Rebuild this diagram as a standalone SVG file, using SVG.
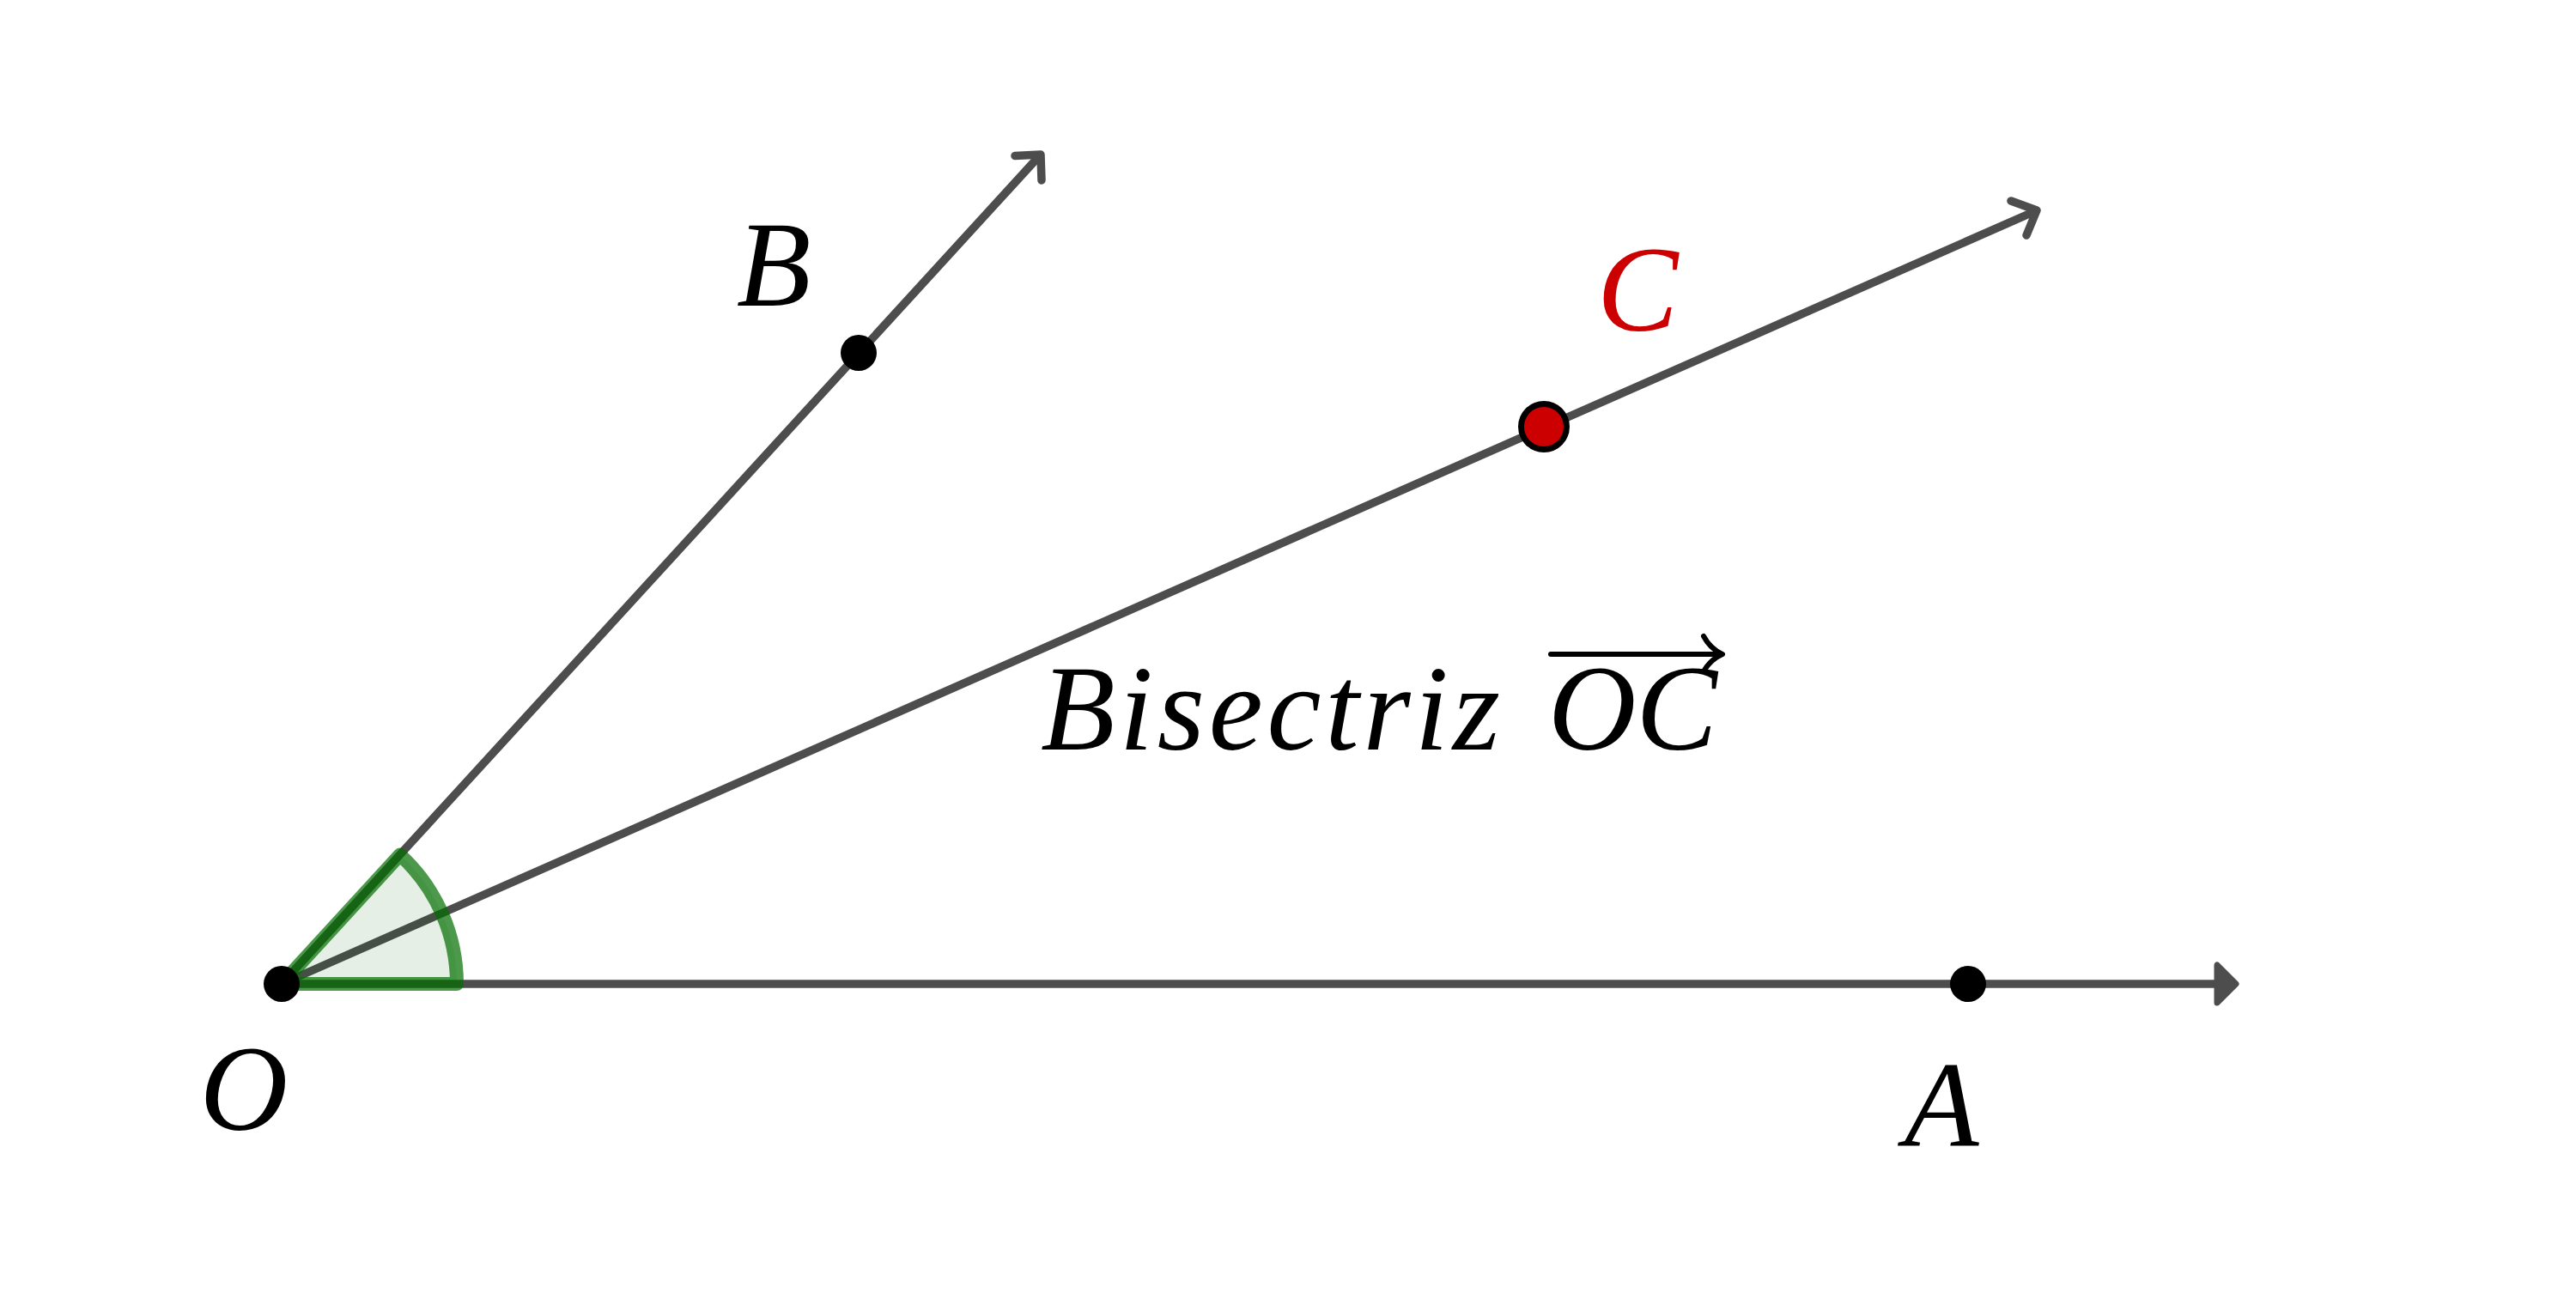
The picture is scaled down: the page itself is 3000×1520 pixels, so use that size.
<svg xmlns="http://www.w3.org/2000/svg" width="3000" height="1520" viewBox="0 0 3000 1520">
  <style>
    .ray { stroke: #4d4d4d; stroke-width: 9.5; stroke-linecap: round; stroke-linejoin: round; fill: none; }
    .head { fill: #4d4d4d; stroke: #4d4d4d; stroke-width: 7; stroke-linejoin: round; }
    .pt { fill: #000000; }
    .lbl { font-family: "Liberation Serif", "Times New Roman", serif; font-style: italic; font-size: 142px; fill: #000000; }
    .red { fill: #cc0000; }
    .vec { stroke: #000000; stroke-width: 6; fill: none; stroke-linecap: round; stroke-linejoin: round; }
  </style>
  <rect width="3000" height="1520" fill="#ffffff"/>
  <g id="connectors">
    <line class="ray" x1="328" y1="1146" x2="2600" y2="1146"/>
    <polygon class="head" points="2604,1146 2582,1124 2582,1168"/>
    <line class="ray" x1="328" y1="1146" x2="1211" y2="181"/>
    <polyline class="ray" points="1182,181.5 1212,180 1213,210"/>
    <line class="ray" x1="328" y1="1146" x2="2370" y2="246"/>
    <polyline class="ray" points="2342,234 2372,245 2360,274"/>
  </g>
  <g id="angle">
    <path d="M 328 1146 L 532 1146 A 204 204 0 0 0 465.8 995.6 Z" fill="#006400" fill-opacity="0.1" stroke="#006e00" stroke-opacity="0.7" stroke-width="16" stroke-linejoin="round"/>
  </g>
  <g id="O">
    <circle class="pt" cx="328" cy="1146" r="21"/>
    <text class="lbl" x="284" y="1316" text-anchor="middle">O</text>
  </g>
  <g id="A">
    <circle class="pt" cx="2292" cy="1146" r="21"/>
    <text class="lbl" x="2261" y="1334" text-anchor="middle">A</text>
  </g>
  <g id="B">
    <circle class="pt" cx="1000" cy="411" r="21"/>
    <text class="lbl" x="901" y="356" text-anchor="middle">B</text>
  </g>
  <g id="C">
    <circle cx="1798" cy="497" r="26.5" fill="#cc0000" stroke="#000000" stroke-width="7"/>
    <text class="lbl red" x="1907" y="385" text-anchor="middle">C</text>
  </g>
  <g id="label">
    <text class="lbl" x="1212" y="873" textLength="535" lengthAdjust="spacing">Bisectriz</text>
    <text class="lbl" x="1803" y="873" textLength="197" lengthAdjust="spacing">OC</text>
    <line class="vec" x1="1806" y1="762" x2="2004" y2="762"/>
    <path class="vec" d="M 1984 741 Q 1992 756 2006 762 Q 1992 768 1984 782" stroke-width="5"/>
  </g>
</svg>
